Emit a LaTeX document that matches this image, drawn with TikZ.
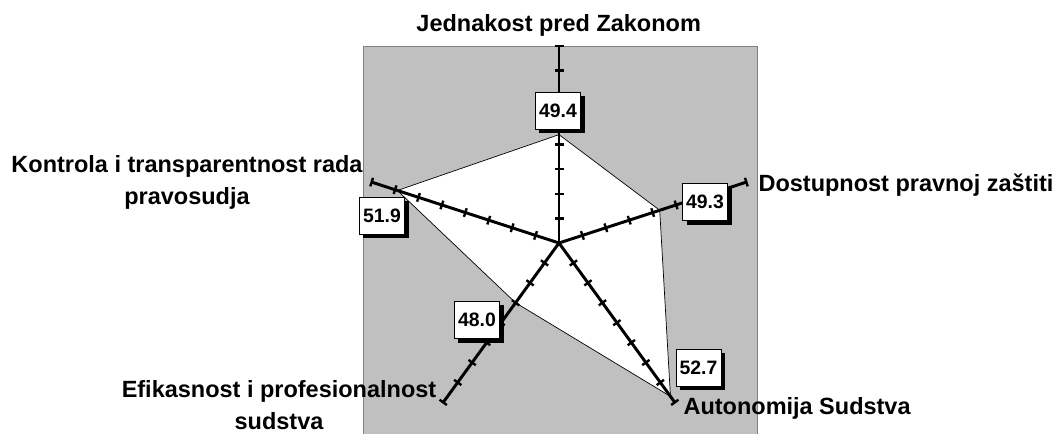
\documentclass[tikz,border=0pt]{standalone}
\usepackage{fontspec}
\setmainfont{Liberation Sans}
\usetikzlibrary{calc,shadows}
\definecolor{plotarea}{HTML}{C0C0C0}
\definecolor{plotedge}{HTML}{808080}
\begin{document}
\begin{tikzpicture}[x=0.025cm,y=0.025cm,
    axis/.style={line width=2.1pt},
    tickmark/.style={line width=1.7pt},
    valbox/.style={draw=black,fill=white,line width=0.6pt,minimum width=1.125cm,minimum height=0.925cm,inner sep=0pt,
        font=\fontsize{13.8}{16}\selectfont\bfseries,
        drop shadow={shadow xshift=0.1cm,shadow yshift=-0.1cm,fill=black,opacity=1}},
    cat/.style={font=\fontsize{16.7}{22.8}\selectfont\bfseries,inner sep=0pt,align=center}]
    \useasboundingbox (0,0) rectangle (1055,434);
    \fill[plotarea] (363,0) rectangle (757,388);
    \draw[plotedge,line width=0.6pt] (363,0) -- (363,388) -- (757,388) -- (757,0);
    \coordinate (c) at (559,191);
    \foreach \ang/\val/\nm in {90/49.4/J,18/49.3/D,-54/52.7/A,-126/48.0/E,162/51.9/K}
        \coordinate (v\nm) at ($(c)+(\ang:{(\val-45)*197/8})$);
    \draw[fill=white,line width=0.5pt] (vJ) -- (vD) -- (vA) -- (vE) -- (vK) -- cycle;
    \foreach \ang in {90,18,-54,-126,162} {
        \begin{scope}[shift={(c)},rotate=\ang]
            \draw[axis] (0,0) -- (197,0);
            \foreach \k in {1,...,8}
                \draw[tickmark] (\k*24.625,-4.5) -- (\k*24.625,4.5);
        \end{scope}
    }
    \node[valbox] (bJ) at (558,323.5) {49.4};
    \node[valbox] (bD) at (705,232) {49.3};
    \node[valbox] (bA) at (698.5,66.3) {52.7};
    \node[valbox] (bE) at (477,114) {48.0};
    \node[valbox] (bK) at (382,218.5) {51.9};
    \node[cat,anchor=base] (lJ) at (558.7,402.5) {Jednakost pred Zakonom};
    \node[cat,anchor=base west] (lD) at (758.3,242.3) {Dostupnost pravnoj zaštiti};
    \node[cat,anchor=base west] (lA) at (683.3,19) {Autonomija Sudstva};
    \node[cat,anchor=base] (lK) at (187,229.5) {Kontrola i transparentnost rada\\pravosudja};
    \node[cat,anchor=base] (lE) at (279,4.3) {Efikasnost i profesionalnost\\sudstva};
\end{tikzpicture}
\end{document}
